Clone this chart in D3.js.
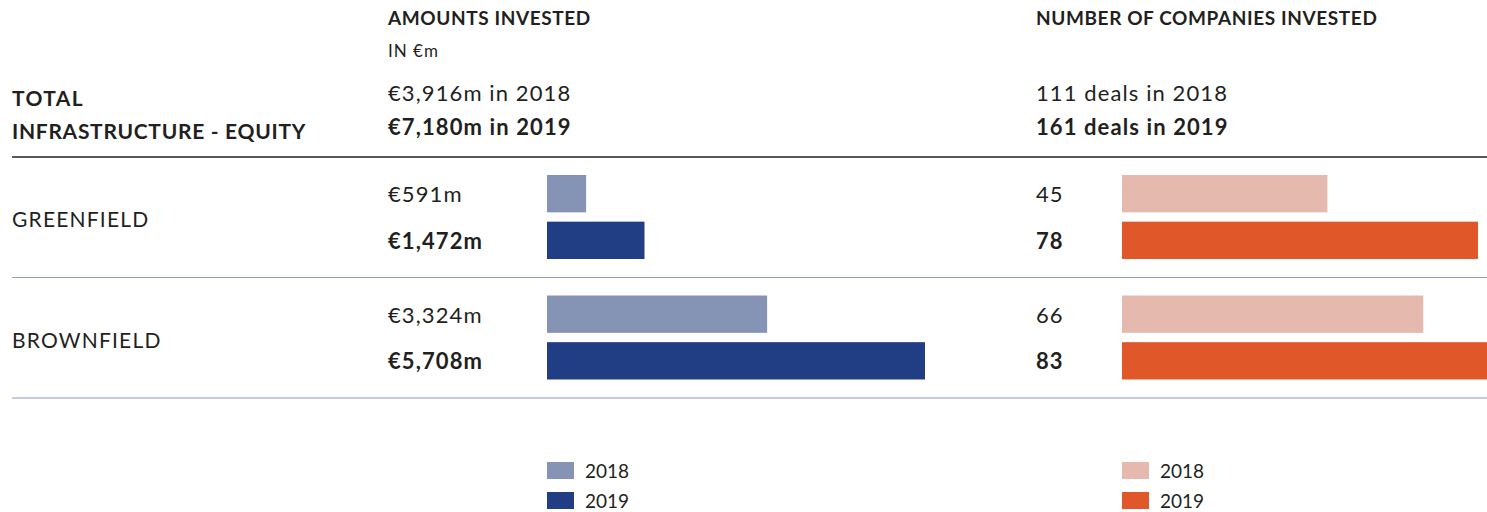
<!DOCTYPE html>
<html lang="en">
<head>
<meta charset="utf-8">
<title>Infrastructure equity: greenfield vs brownfield</title>
<script src="https://d3js.org/d3.v7.min.js"></script>
<style>
  body { margin: 0; background: #fff; }
  svg { display: block; font-family: "Lato", "Open Sans", sans-serif; }
  text { fill: #231f20; }
  .head { font-size: 19px; font-weight: bold; letter-spacing: 0.6px; }
  .val { font-size: 22px; letter-spacing: 1.1px; }
  .cat { font-size: 21px; letter-spacing: 1.2px; }
</style>
</head>
<body>
<script>
// categories and series
var categories = ["GREENFIELD", "BROWNFIELD"];
var years = ["2018", "2019"];
var amounts2018 = [591, 3324];
var amounts2019 = [1472, 5708];
var deals2018 = [45, 66];
var deals2019 = [78, 83];
var totalAmounts = ["€3,916m in 2018", "€7,180m in 2019"];
var totalDeals = ["111 deals in 2018", "161 deals in 2019"];

var w = 1487, h = 512;
var blue = ["#8593b5", "#213e85"];
var orange = ["#e5b9ad", "#e0582a"];

var svg = d3.select("body").append("svg")
  .attr("width", w)
  .attr("height", h);

// scales
var xAmt = d3.scaleLinear().domain([0, 5708]).range([547, 925]);
var xDeal = d3.scaleLinear().domain([0, 78]).range([1122, 1478]);

var yRow = d3.scaleBand().domain(categories).range([157, 398]).paddingInner(0).paddingOuter(0);
var yBar = d3.scaleBand().domain(years).range([18, 102]).paddingInner(0.2).paddingOuter(0);

// headers
svg.append("text").attr("class", "head").attr("x", 388).attr("y", 25).text("AMOUNTS INVESTED");
svg.append("text").attr("x", 388).attr("y", 57)
  .style("font-size", "17px").style("letter-spacing", "1px").text("IN €m");
svg.append("text").attr("class", "head").attr("x", 1036).attr("y", 25).text("NUMBER OF COMPANIES INVESTED");

svg.append("text").attr("class", "cat").attr("x", 12).attr("y", 106)
  .style("font-weight", "bold").style("letter-spacing", "1.4px").text("TOTAL");
svg.append("text").attr("class", "cat").attr("x", 12).attr("y", 139)
  .style("font-weight", "bold").style("letter-spacing", "0.7px").text("INFRASTRUCTURE - EQUITY");

totalAmounts.forEach(function(t, i) {
  svg.append("text").attr("class", "val").attr("x", 388).attr("y", 101 + i * 34)
    .style("font-weight", i ? "bold" : "normal").text(t);
});
totalDeals.forEach(function(t, i) {
  svg.append("text").attr("class", "val").attr("x", 1036).attr("y", 101 + i * 34)
    .style("font-weight", i ? "bold" : "normal").text(t);
});

// rule lines
svg.append("line").attr("x1", 12).attr("x2", w).attr("y1", 157).attr("y2", 157)
  .attr("stroke", "#231f20").attr("stroke-width", 1.5);
categories.forEach(function(c) {
  var yy = yRow(c) + yRow.bandwidth();
  svg.append("line").attr("x1", 12).attr("x2", w).attr("y1", yy).attr("y2", yy)
    .attr("stroke", "#8d9cc6").attr("stroke-width", 1.2);
});

// rows
var rows = svg.selectAll("g.row")
  .data(categories)
  .enter().append("g")
  .attr("class", "row")
  .attr("transform", function(d) { return "translate(0," + yRow(d) + ")"; });

rows.append("text")
  .attr("class", "cat")
  .attr("x", 12).attr("y", 70)
  .text(function(d) { return d; });

function fmt(v) { return "€" + d3.format(",")(v) + "m"; }

rows.each(function(c, i) {
  var g = d3.select(this);
  var amt = [amounts2018[i], amounts2019[i]];
  var dl = [deals2018[i], deals2019[i]];
  years.forEach(function(yr, j) {
    var by = yBar(yr);
    g.append("rect")
      .attr("x", xAmt(0)).attr("y", by)
      .attr("width", xAmt(amt[j]) - xAmt(0)).attr("height", yBar.bandwidth())
      .attr("fill", blue[j]);
    g.append("rect")
      .attr("x", xDeal(0)).attr("y", by)
      .attr("width", xDeal(dl[j]) - xDeal(0)).attr("height", yBar.bandwidth())
      .attr("fill", orange[j]);
    g.append("text")
      .attr("class", "val")
      .attr("x", 388).attr("y", by + 27)
      .style("font-weight", j ? "bold" : "normal")
      .text(fmt(amt[j]));
    g.append("text")
      .attr("class", "val")
      .attr("x", 1036).attr("y", by + 27)
      .style("font-weight", j ? "bold" : "normal")
      .text(dl[j]);
  });
});

// legends
function legend(x0, cols) {
  years.forEach(function(yr, j) {
    svg.append("rect").attr("x", x0).attr("y", 462 + j * 30)
      .attr("width", 27).attr("height", 17).attr("fill", cols[j]);
    svg.append("text").attr("x", x0 + 38).attr("y", 478 + j * 30)
      .style("font-size", "19px").text(yr);
  });
}
legend(547, blue);
legend(1122, orange);
</script>
</body>
</html>
